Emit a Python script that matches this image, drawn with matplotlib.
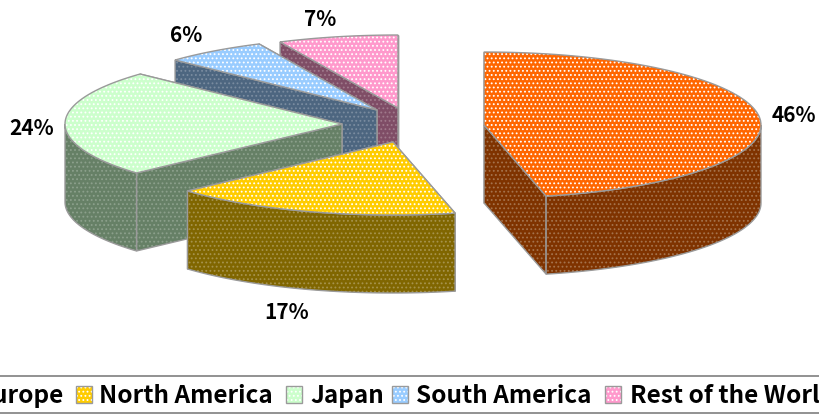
"""Exploded 3D-look pie of regional shares.
"""
import numpy as np
import matplotlib.pyplot as plt
from matplotlib.patches import Polygon

plt.rcParams["font.family"] = ["Noto Sans CJK JP", "DejaVu Sans"]
plt.rcParams["hatch.linewidth"] = 0.8

#### Data.
categories = ["Europe", "North America", "Japan", "South America", "Rest of the World"]
shares = [46.4, 16.9, 23.7, 6, 7]

#### Styles and layout (pixel coordinates).
top_colors = ["#FF6600", "#FFCC00", "#CCFFCC", "#99CCFF", "#FF99CC"]
side_colors = ["#7F3300", "#806600", "#668066", "#4D6680", "#7F4D66"]
side_dots = ["#A5734D", "#A6934D", "#8CA08C", "#7A8CA0", "#A07A8C"]
centers = [(484, 125), (393, 142), (342, 124), (377, 110), (398, 108)]
label_pos = [(794, 115), (287, 312), (32, 128), (186, 35), (320, 19)]
legend_swatch_x = [-40, 76, 286, 392, 605]
legend_text_x = [64, 99, 310, 416, 630]
RX, RY, DEPTH = 277, 73, 78
EDGE = "#9A9A9A"
HATCH = "...."


def rim(cx, cy, a0, a1, dy=0):
    # angles run clockwise from 12 o'clock
    t = np.radians(np.linspace(a0, a1, 80))
    return np.column_stack([cx + RX*np.sin(t), cy - RY*np.cos(t) + dy])


def face(ax, pts, color, dots, lw=1.0):
    ax.add_patch(Polygon(pts, facecolor=color, edgecolor=dots, hatch=HATCH, linewidth=0))
    ax.add_patch(Polygon(pts, fill=False, edgecolor=EDGE, linewidth=lw))


#### Draw.
fig = plt.figure(figsize=(8.19, 4.15), dpi=100)
ax = fig.add_axes([0, 0, 1, 1])
ax.set_xlim(0, 819)
ax.set_ylim(415, 0)
ax.axis("off")

edges = np.cumsum([0] + shares) / sum(shares) * 360

# back to front, the big slice sits apart so it can go last
for i in [4, 3, 2, 1, 0]:
    cx, cy = centers[i]
    a0, a1 = edges[i], edges[i+1]

    # cut faces, the one further back first
    cuts = sorted([a0, a1], key=lambda a: -np.cos(np.radians(a)))
    for a in cuts:
        p = rim(cx, cy, a, a)[0]
        pts = [(cx, cy), p, (p[0], p[1]+DEPTH), (cx, cy+DEPTH)]
        face(ax, pts, side_colors[i], side_dots[i])

    # outer wall, only the part facing us
    lo, hi = max(a0, 90), min(a1, 270)
    if lo < hi:
        pts = np.vstack([rim(cx, cy, lo, hi), rim(cx, cy, hi, lo, DEPTH)])
        face(ax, pts, side_colors[i], side_dots[i])

    # top
    pts = np.vstack([[(cx, cy)], rim(cx, cy, a0, a1)])
    face(ax, pts, top_colors[i], "white")

    ax.text(*label_pos[i], f"{round(shares[i])}%", ha="center", va="center",
        fontsize=15, fontweight="bold", color="black")

#### Legend band, wider than the picture so it is cut on both sides.
for y in (376, 413):
    ax.plot([0, 819], [y, y], color="#7F7F7F", linewidth=1.2)

for i, name in enumerate(categories):
    sx = legend_swatch_x[i]
    corners = [(sx, 386), (sx+16, 386), (sx+16, 403), (sx, 403)]
    face(ax, corners, top_colors[i], "white")
    ha = "right" if i == 0 else "left"
    ax.text(legend_text_x[i], 396, name, ha=ha, va="center",
        fontsize=17.5, fontweight="bold", color="black", clip_on=True)

fig.savefig("out.png", dpi=100)
plt.close()
